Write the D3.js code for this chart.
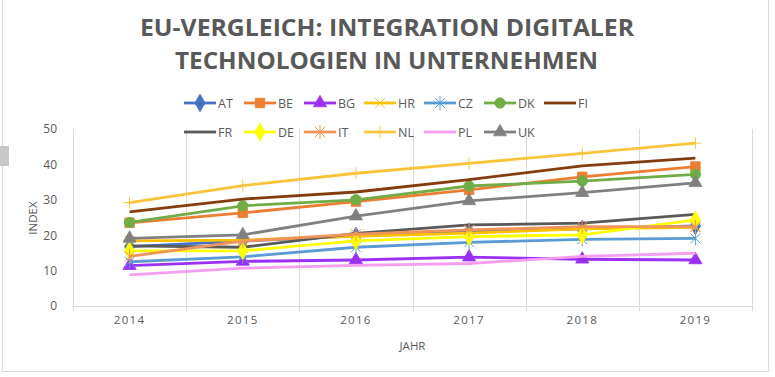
<!DOCTYPE html>
<html>
<head>
<meta charset="utf-8">
<script src="https://cdn.jsdelivr.net/npm/d3@7"></script>
<style>
	body { margin: 0; background: #ffffff; }
	text { font-family: "Open Sans", sans-serif; fill: #595959; }
</style>
</head>
<body>
<div id="containerLineChart"></div>
<script>

// categories on the x axis
var years = ["2014", "2015", "2016", "2017", "2018", "2019"];

// country codes, in legend order
var countries = ["AT", "BE", "BG", "HR", "CZ", "DK", "FI", "FR", "DE", "IT", "NL", "PL", "UK"];

// index values per country
var AT = [16.8, 18.3, 19.8, 21.0, 21.8, 22.6];
var BE = [23.5, 26.3, 29.5, 32.8, 36.5, 39.4];
var BG = [11.4, 12.6, 13.0, 13.8, 13.2, 13.0];
var HR = [18.4, 18.6, 19.7, 20.6, 21.8, 22.2];
var CZ = [12.5, 13.9, 16.6, 18.0, 18.8, 19.1];
var DK = [23.6, 28.3, 30.0, 33.9, 35.3, 37.2];
var FI = [26.6, 30.2, 32.2, 35.7, 39.6, 41.8];
var FR = [17.0, 16.6, 20.5, 22.9, 23.4, 25.9];
var DE = [15.6, 15.6, 18.4, 19.6, 20.1, 24.3];
var IT = [14.0, 18.3, 20.3, 21.5, 22.4, 22.4];
var NL = [29.2, 34.0, 37.5, 40.3, 43.1, 46.0];
var PL = [8.8, 10.7, 11.5, 12.0, 14.0, 14.9];
var UK = [19.1, 20.1, 25.4, 29.7, 32.0, 34.8];

// y axis ticks
var yTicks = [0, 10, 20, 30, 40, 50];

// series look (colour and marker type)
var colors = {AT: "#4472C4", BE: "#ED7D31", BG: "#9B30F5", HR: "#FFC000", CZ: "#5B9BD5", DK: "#70AD47",
	FI: "#843C0C", FR: "#595959", DE: "#FFFF00", IT: "#F0945A", NL: "#F9C43A", PL: "#F59DF0", UK: "#808080"};
var markers = {AT: "diamond", BE: "square", BG: "triangle", HR: "cross", CZ: "star", DK: "circle",
	FI: null, FR: null, DE: "diamond", IT: "star", NL: "plus", PL: null, UK: "triangle"};

function drawLineChart() {

	var seriesData = {AT: AT, BE: BE, BG: BG, HR: HR, CZ: CZ, DK: DK, FI: FI, FR: FR, DE: DE, IT: IT, NL: NL, PL: PL, UK: UK};

	var width = 775;
	var height = 377;
	var margin = {left: 73, top: 129, right: 23, bottom: 71};

	var svg = d3.select("#containerLineChart")
		.append("svg")
		.attr("width", width)
		.attr("height", height);

	// chart border + little handle on the left
	svg.append("rect")
		.attr("x", 2.5).attr("y", -1)
		.attr("width", 766).attr("height", 372.5)
		.attr("fill", "none")
		.attr("stroke", "#d9d9d9");
	svg.append("rect")
		.attr("x", 0).attr("y", 146)
		.attr("width", 9).attr("height", 20)
		.attr("fill", "#c8c8c8");

	var scaleX = d3.scaleBand()
		.domain(years)
		.range([margin.left, width - margin.right]);

	var scaleY = d3.scaleLinear()
		.domain([0, 50])
		.range([height - margin.bottom, margin.top]);

	// vertical gridlines between categories
	var bounds = years.map(function(d) { return scaleX(d); });
	bounds.push(scaleX(years[years.length - 1]) + scaleX.bandwidth());
	svg.append("g")
		.selectAll("line")
		.data(bounds)
		.enter()
		.append("line")
		.attr("x1", function(d) { return Math.round(d) + 0.5; })
		.attr("x2", function(d) { return Math.round(d) + 0.5; })
		.attr("y1", scaleY(50))
		.attr("y2", scaleY(0) + 5)
		.attr("stroke", "#d9d9d9");

	// x axis line
	svg.append("line")
		.attr("x1", margin.left)
		.attr("x2", width - margin.right)
		.attr("y1", scaleY(0) + 0.5)
		.attr("y2", scaleY(0) + 0.5)
		.attr("stroke", "#d9d9d9");

	// axis tick labels
	var x_axis = d3.axisBottom(scaleX).tickSize(0).tickPadding(10);
	var y_axis = d3.axisLeft(scaleY).tickValues(yTicks).tickSize(0).tickPadding(16);

	var gx = svg.append("g")
		.attr("transform", "translate(0," + scaleY(0) + ")")
		.call(x_axis);
	gx.select(".domain").remove();
	gx.selectAll("text")
		.attr("font-size", 11.5)
		.style("letter-spacing", "1.3px")
		.style("font-family", "'Open Sans', sans-serif")
		.attr("fill", "#595959");

	var gy = svg.append("g")
		.attr("transform", "translate(" + margin.left + ",0)")
		.call(y_axis);
	gy.select(".domain").remove();
	gy.selectAll("text")
		.attr("font-size", 12)
		.style("font-family", "'Open Sans', sans-serif")
		.attr("fill", "#595959");

	// lines
	var line = d3.line()
		.x(function(d, i) { return scaleX(years[i]) + scaleX.bandwidth() / 2; })
		.y(function(d) { return scaleY(d); });

	var symbolTypes = {diamond: d3.symbolDiamond, square: d3.symbolSquare, triangle: d3.symbolTriangle,
		circle: d3.symbolCircle, cross: d3.symbolTimes, plus: d3.symbolCross, star: d3.symbolAsterisk};

	function markerPath(type) {
		if (type == "plus") return "M-6,0H6M0,-6V6";
		if (type == "cross") return "M-5,-5L5,5M-5,5L5,-5";
		if (type == "star") return "M-5,-5L5,5M-5,5L5,-5M0,-7V7";
		var size = {diamond: 90, square: 90, triangle: 75, circle: 85}[type];
		return d3.symbol().type(symbolTypes[type]).size(size)();
	}
	var strokeOnly = {plus: true, cross: true, star: true};

	countries.forEach(function(c) {
		var g = svg.append("g");
		g.append("path")
			.datum(seriesData[c])
			.attr("d", line)
			.attr("fill", "none")
			.attr("stroke", colors[c])
			.attr("stroke-width", 2.8)
			.attr("stroke-linejoin", "round");
		if (markers[c]) {
			g.selectAll(".marker")
				.data(seriesData[c])
				.enter()
				.append("path")
				.attr("class", "marker")
				.attr("transform", function(d, i) {
					return "translate(" + (scaleX(years[i]) + scaleX.bandwidth() / 2) + "," + scaleY(d) + ")";
				})
				.attr("d", markerPath(markers[c]))
				.attr("fill", strokeOnly[markers[c]] ? "none" : colors[c])
				.attr("stroke", colors[c])
				.attr("stroke-width", strokeOnly[markers[c]] ? 1 : 0.8);
		}
	});

	// legend, two rows
	var legend = svg.append("g");
	countries.forEach(function(c, i) {
		var row = i < 7 ? 0 : 1;
		var col = i < 7 ? i : i - 7;
		var lx = 184 + col * 60;
		var ly = 103 + row * 29;
		legend.append("line")
			.attr("x1", lx).attr("x2", lx + 32)
			.attr("y1", ly).attr("y2", ly)
			.attr("stroke", colors[c])
			.attr("stroke-width", 2.8);
		if (markers[c]) {
			legend.append("path")
				.attr("transform", "translate(" + (lx + 16) + "," + ly + ")")
				.attr("d", markerPath(markers[c]))
				.attr("fill", strokeOnly[markers[c]] ? "none" : colors[c])
				.attr("stroke", colors[c])
				.attr("stroke-width", strokeOnly[markers[c]] ? 1 : 0.8);
		}
		legend.append("text")
			.attr("x", lx + 34)
			.attr("y", ly + 4.5)
			.attr("font-size", 12.5)
			.text(c);
	});

	// title
	svg.append("text")
		.attr("x", 140).attr("y", 36)
		.attr("font-size", 24)
		.attr("font-weight", 700)
		.attr("textLength", 494)
		.attr("lengthAdjust", "spacingAndGlyphs")
		.text("EU-VERGLEICH: INTEGRATION DIGITALER");
	svg.append("text")
		.attr("x", 175).attr("y", 69)
		.attr("font-size", 24)
		.attr("font-weight", 700)
		.attr("textLength", 423)
		.attr("lengthAdjust", "spacingAndGlyphs")
		.text("TECHNOLOGIEN IN UNTERNEHMEN");

	// axis titles
	svg.append("text")
		.attr("x", (margin.left + width - margin.right) / 2)
		.attr("y", 350)
		.attr("font-size", 11.5)
		.style("text-anchor", "middle")
		.text("JAHR");
	svg.append("text")
		.attr("transform", "rotate(-90)")
		.attr("x", -218)
		.attr("y", 37)
		.attr("font-size", 11.5)
		.style("text-anchor", "middle")
		.text("INDEX");
};

drawLineChart();
</script>
</body>
</html>
